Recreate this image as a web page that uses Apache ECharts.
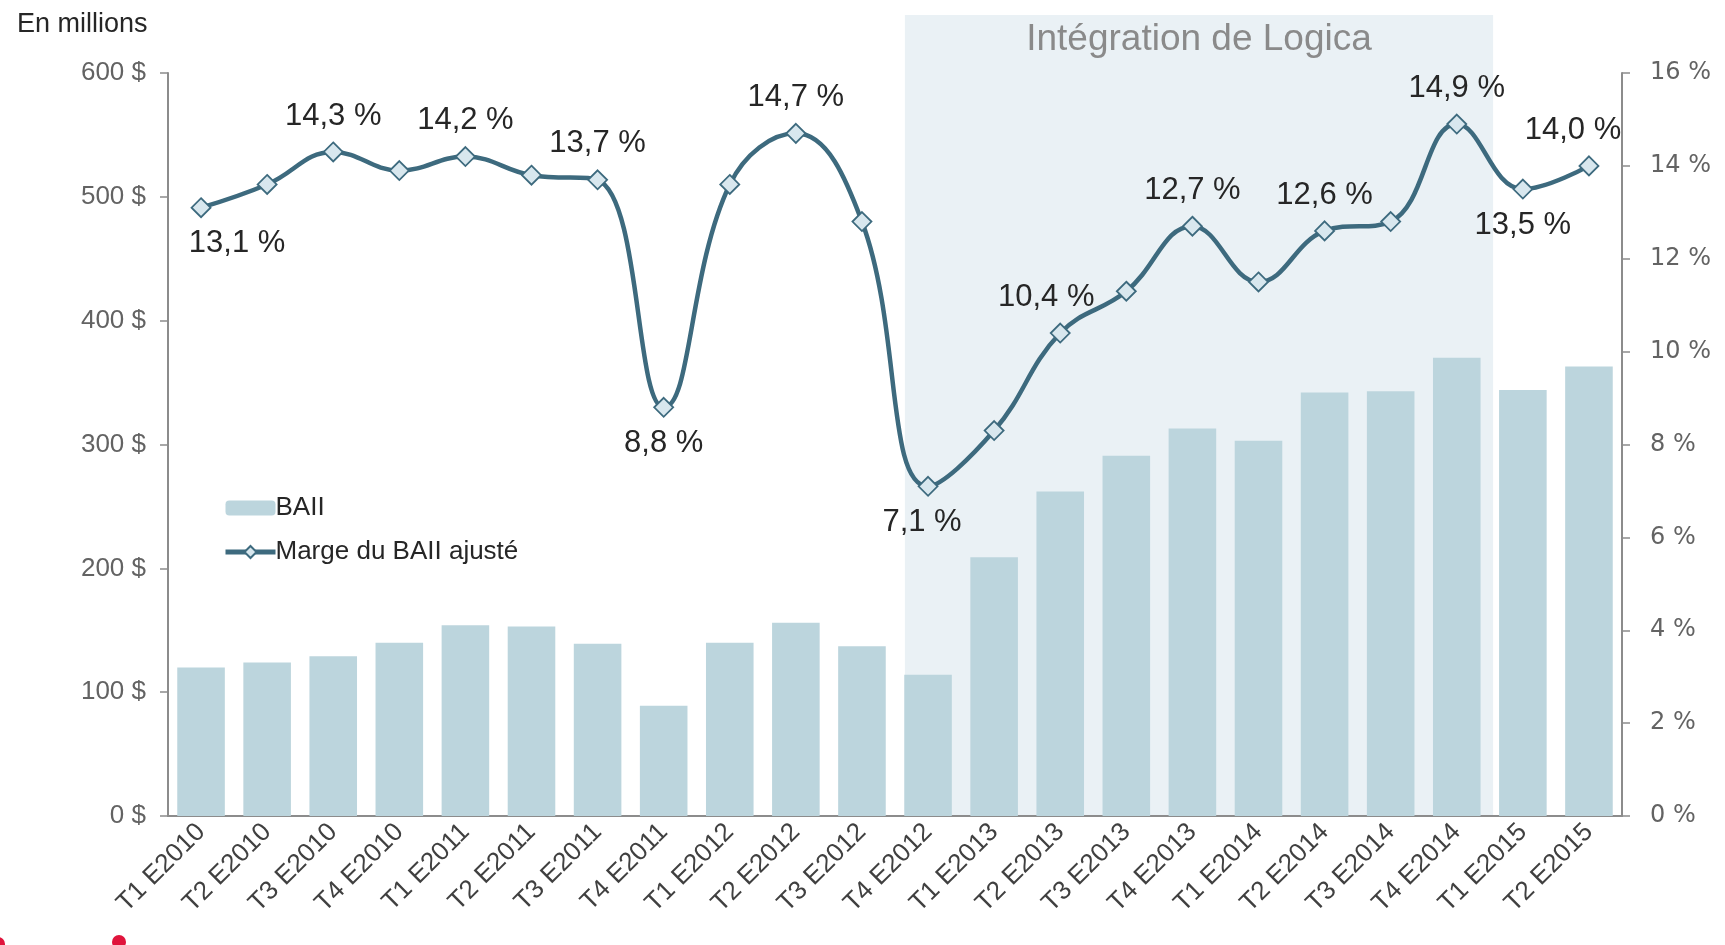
<!DOCTYPE html>
<html>
<head>
<meta charset="utf-8">
<script src="https://cdn.jsdelivr.net/npm/echarts@6/dist/echarts.min.js"></script>
<style>
  html, body { margin: 0; padding: 0; background: #fff; }
  #chart { width: 1725px; height: 945px; }
</style>
</head>
<body>
<div id="chart"></div>
<script>
// trimestres
var categories = [
  "T1 E2010", "T2 E2010", "T3 E2010", "T4 E2010",
  "T1 E2011", "T2 E2011", "T3 E2011", "T4 E2011",
  "T1 E2012", "T2 E2012", "T3 E2012", "T4 E2012",
  "T1 E2013", "T2 E2013", "T3 E2013", "T4 E2013",
  "T1 E2014", "T2 E2014", "T3 E2014", "T4 E2014",
  "T1 E2015", "T2 E2015"
];
// BAII en millions $
var baii = [120, 124, 129, 140, 154, 153, 139, 89, 140, 156, 137, 114,
  209, 262, 291, 313, 303, 342, 343, 370, 344, 363];
// marge du BAII ajusté en %
var marge = [13.1, 13.6, 14.3, 13.9, 14.2, 13.8, 13.7, 8.8, 13.6, 14.7, 12.8, 7.1,
  8.3, 10.4, 11.3, 12.7, 11.5, 12.6, 12.8, 14.9, 13.5, 14.0];
var leftTicks = [0, 100, 200, 300, 400, 500, 600];
var rightTicks = [0, 2, 4, 6, 8, 10, 12, 14, 16];

var lineColor = "#3d6a7e";
var axisColor = "#8c8c8c";

// quels points ont une étiquette, et où
var labelAt = {
  0: ["bottom", [36, 0]],
  2: ["top", [0, 0]],
  4: ["top", [0, 0]],
  6: ["top", [0, 0]],
  7: ["bottom", [0, 0]],
  9: ["top", [0, 0]],
  11: ["bottom", [-6, 0]],
  13: ["top", [-14, 0]],
  15: ["top", [0, 0]],
  17: ["top", [0, 0]],
  19: ["top", [0, 0]],
  20: ["bottom", [0, 0]],
  21: ["top", [-16, 0]]
};

var margeData = marge.map(function (v, i) {
  var item = { value: v };
  if (labelAt[i]) {
    item.label = {
      show: true,
      position: labelAt[i][0],
      offset: labelAt[i][1],
      distance: 10,
      formatter: function (p) {
        return p.value.toFixed(1).replace(".", ",") + " %";
      }
    };
  }
  return item;
});

var myChart = echarts.init(document.getElementById("chart"));
var option = {
  animation: false,
  textStyle: { fontFamily: "Liberation Sans, Arial, sans-serif" },
  title: {
    text: "En millions",
    left: 12,
    top: 6,
    textStyle: { fontSize: 27, fontWeight: "normal", color: "#262626" }
  },
  legend: {
    orient: "vertical",
    left: 218,
    top: 490,
    itemWidth: 50,
    itemHeight: 15,
    itemGap: 18,
    lineStyle: { width: 5, inactiveWidth: 5 },
    textStyle: { fontSize: 26, color: "#262626", padding: [0, 0, 0, -5] },
    data: ["BAII", "Marge du BAII ajusté"]
  },
  grid: { left: 168, right: 103, top: 73, bottom: 129 },
  xAxis: {
    type: "category",
    data: categories,
    axisLine: { lineStyle: { color: axisColor, width: 2 } },
    axisTick: { length: 7, lineStyle: { color: axisColor, width: 1.5 } },
    axisLabel: { rotate: 45, fontSize: 26, color: "#404040", margin: 12, interval: 0 }
  },
  yAxis: [
    {
      type: "value",
      min: leftTicks[0],
      max: leftTicks[leftTicks.length - 1],
      interval: 100,
      axisLine: { show: true, lineStyle: { color: axisColor, width: 2 } },
      axisTick: { show: true, length: 8, lineStyle: { color: axisColor, width: 1.5 } },
      splitLine: { show: false },
      axisLabel: { fontSize: 26, color: "#636363", margin: 22, formatter: "{value} $" }
    },
    {
      type: "value",
      min: rightTicks[0],
      max: rightTicks[rightTicks.length - 1],
      interval: 2,
      position: "right",
      axisLine: { show: true, lineStyle: { color: axisColor, width: 2 } },
      axisTick: { show: true, length: 8, lineStyle: { color: axisColor, width: 1.5 } },
      splitLine: { show: false },
      axisLabel: {
        fontSize: 24, color: "#636363", margin: 28,
        fontFamily: "DejaVu Sans, Verdana, sans-serif",
        formatter: "{value} %"
      }
    }
  ],
  series: [
    {
      name: "BAII",
      type: "bar",
      data: baii,
      barCategoryGap: "28%",
      itemStyle: { color: "#bcd5dd" },
      z: 2
    },
    {
      name: "Marge du BAII ajusté",
      type: "line",
      yAxisIndex: 1,
      data: margeData,
      smooth: 0.42,
      symbol: "diamond",
      symbolSize: 19,
      lineStyle: { color: lineColor, width: 4.5 },
      itemStyle: { color: "#d8e7ee", borderColor: lineColor, borderWidth: 1.8 },
      label: { fontSize: 31, color: "#262626" },
      z: 3
    }
  ]
};
myChart.setOption(option);

// zone « Intégration de Logica »
var bw = (1725 - 168 - 103) / categories.length;
var x1 = myChart.convertToPixel({ xAxisIndex: 0 }, "T4 E2012") - 0.35 * bw;
var x2 = myChart.convertToPixel({ xAxisIndex: 0 }, "T1 E2015") - 0.45 * bw;
var yBottom = myChart.convertToPixel({ yAxisIndex: 0 }, 0);
myChart.setOption({
  graphic: [
    {
      type: "rect",
      z: -10,
      silent: true,
      shape: { x: x1, y: 15, width: x2 - x1, height: yBottom - 15 },
      style: { fill: "#eaf1f5" }
    },
    {
      type: "text",
      z: -5,
      x: (x1 + x2) / 2,
      y: 40,
      style: {
        text: "Intégration de Logica",
        fontSize: 37,
        fill: "#8a8a8a",
        fontFamily: "Liberation Sans, Arial, sans-serif",
        align: "center",
        verticalAlign: "middle"
      }
    },
    { type: "circle", shape: { cx: 119, cy: 942, r: 7 }, style: { fill: "#e0143c" } },
    { type: "circle", shape: { cx: -2, cy: 944, r: 7 }, style: { fill: "#e0143c" } }
  ]
});
window.onresize = myChart.resize;
</script>
</body>
</html>
